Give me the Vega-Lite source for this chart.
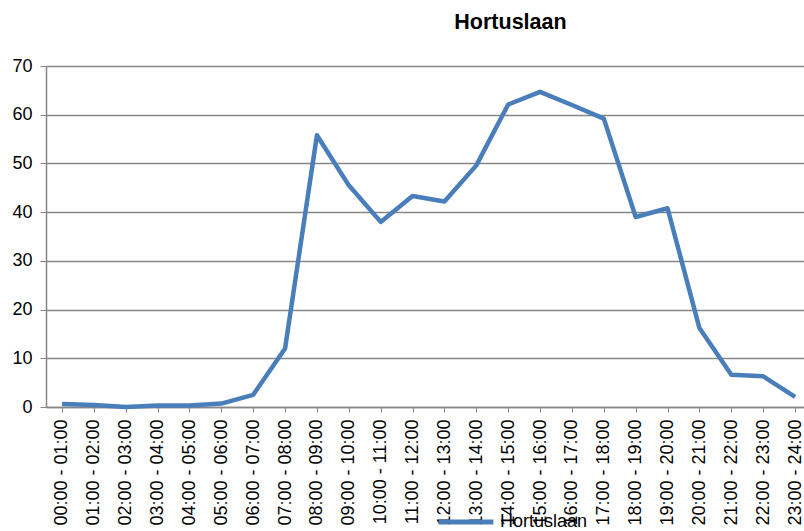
{
  "$schema": "https://vega.github.io/schema/vega-lite/v6.json",
  "width": 765,
  "height": 341,
  "autosize": "none",
  "padding": {"left": 46, "top": 66, "right": 0, "bottom": 124},
  "background": "white",
  "title": {"text": "Hortuslaan", "font": "Liberation Sans", "fontSize": 21.5, "fontWeight": "bold", "color": "#000000", "anchor": "middle", "dx": 82, "offset": 24},
  "config": {"view": {"stroke": null}},
  "data": {"values": [
    {"t": "00:00 - 01:00", "v": 0.6, "s": "Hortuslaan"},
    {"t": "01:00 - 02:00", "v": 0.4, "s": "Hortuslaan"},
    {"t": "02:00 - 03:00", "v": 0.0, "s": "Hortuslaan"},
    {"t": "03:00 - 04:00", "v": 0.3, "s": "Hortuslaan"},
    {"t": "04:00 - 05:00", "v": 0.3, "s": "Hortuslaan"},
    {"t": "05:00 - 06:00", "v": 0.7, "s": "Hortuslaan"},
    {"t": "06:00 - 07:00", "v": 2.5, "s": "Hortuslaan"},
    {"t": "07:00 - 08:00", "v": 12.0, "s": "Hortuslaan"},
    {"t": "08:00 - 09:00", "v": 55.8, "s": "Hortuslaan"},
    {"t": "09:00 - 10:00", "v": 45.5, "s": "Hortuslaan"},
    {"t": "10:00 - 11:00", "v": 38.0, "s": "Hortuslaan"},
    {"t": "11:00 - 12:00", "v": 43.3, "s": "Hortuslaan"},
    {"t": "12:00 - 13:00", "v": 42.2, "s": "Hortuslaan"},
    {"t": "13:00 - 14:00", "v": 49.6, "s": "Hortuslaan"},
    {"t": "14:00 - 15:00", "v": 62.1, "s": "Hortuslaan"},
    {"t": "15:00 - 16:00", "v": 64.7, "s": "Hortuslaan"},
    {"t": "16:00 - 17:00", "v": 62.0, "s": "Hortuslaan"},
    {"t": "17:00 - 18:00", "v": 59.2, "s": "Hortuslaan"},
    {"t": "18:00 - 19:00", "v": 39.0, "s": "Hortuslaan"},
    {"t": "19:00 - 20:00", "v": 40.8, "s": "Hortuslaan"},
    {"t": "20:00 - 21:00", "v": 16.2, "s": "Hortuslaan"},
    {"t": "21:00 - 22:00", "v": 6.6, "s": "Hortuslaan"},
    {"t": "22:00 - 23:00", "v": 6.3, "s": "Hortuslaan"},
    {"t": "23:00 - 24:00", "v": 2.1, "s": "Hortuslaan"}
  ]},
  "mark": {"type": "line", "strokeWidth": 4.5, "strokeJoin": "round", "strokeCap": "butt"},
  "encoding": {
    "x": {"field": "t", "type": "ordinal", "sort": null, "title": null,
      "scale": {"type": "point", "padding": 0.5},
      "axis": {"labelAngle": -90, "labelFont": "Liberation Sans", "labelFontSize": 18, "labelColor": "#000000", "labelPadding": 7, "domainColor": "#868686", "domainWidth": 1.5, "tickColor": "#868686", "tickBand": "extent", "tickSize": 5, "grid": false}},
    "y": {"field": "v", "type": "quantitative", "title": null,
      "scale": {"domain": [0, 70], "nice": false},
      "axis": {"values": [0, 10, 20, 30, 40, 50, 60, 70], "labelFont": "Liberation Sans", "labelFontSize": 18, "labelColor": "#000000", "labelPadding": 8, "domainColor": "#868686", "domainWidth": 1.5, "tickColor": "#868686", "tickSize": 6, "gridColor": "#868686", "gridWidth": 1.3}},
    "color": {"field": "s", "type": "nominal", "scale": {"range": ["#4A7EBB"]},
      "legend": {"title": null, "orient": "none", "legendX": 390, "legendY": 426, "symbolType": "stroke", "symbolSize": 3000, "symbolStrokeWidth": 5, "labelFont": "Liberation Sans", "labelFontSize": 18, "labelColor": "#000000", "labelOffset": 4}}
  }
}
